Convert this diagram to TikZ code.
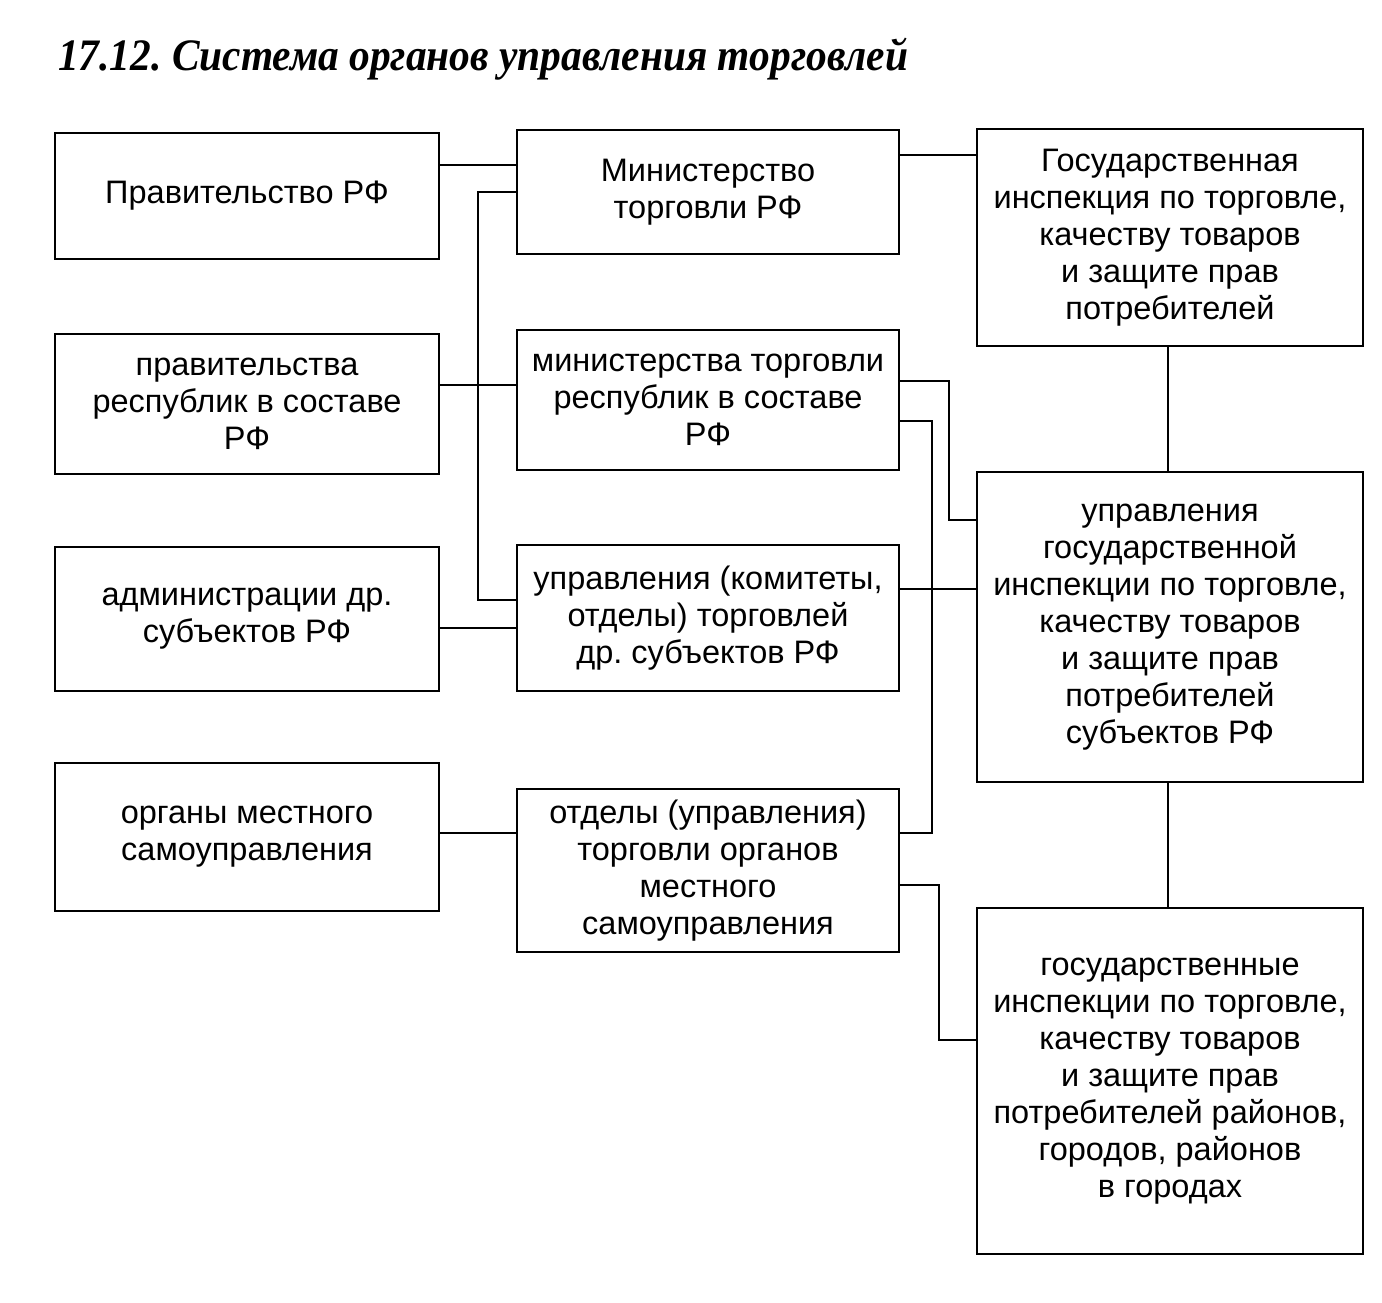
\documentclass[tikz,border=0pt]{standalone}
\usepackage{graphicx}
\usepackage{fontspec}
\setmainfont{Liberation Sans}
\newfontfamily\titlefont{Liberation Serif}
\begin{document}
\begin{tikzpicture}[x=1pt,y=-1pt,
  box/.style={draw=black,line width=2.8pt,inner sep=0pt,align=center,
    font=\fontsize{32.5}{37}\selectfont},
  conn/.style={draw=black,line width=2.4pt}]
\useasboundingbox[fill=white] (0,0) rectangle (1382,1303);
% title
\node[anchor=base west,inner sep=0pt,font=\titlefont\bfseries\itshape\fontsize{45}{50}\selectfont] (title) at (58,71) {\scalebox{0.92}[1]{17.12.\ Система органов управления торговлей}};
% left column
\node[box,minimum width=384pt,minimum height=126pt] (L1) at (247,196) {Правительство РФ};
\node[box,minimum width=384pt,minimum height=140pt] (L2) at (247,404) {правительства\\республик в составе\\РФ};
\node[box,minimum width=384pt,minimum height=144pt] (L3) at (247,619) {администрации др.\\субъектов РФ};
\node[box,minimum width=384pt,minimum height=148pt] (L4) at (247,837) {органы местного\\самоуправления};
% middle column
\node[box,minimum width=382pt,minimum height=124pt] (M1) at (708,192) {Министерство\\торговли РФ};
\node[box,minimum width=382pt,minimum height=140pt] (M2) at (708,400) {министерства торговли\\республик в составе\\РФ};
\node[box,minimum width=382pt,minimum height=146pt] (M3) at (708,618) {управления (комитеты,\\отделы) торговлей\\др.\ субъектов РФ};
\node[box,minimum width=382pt,minimum height=163pt] (M4) at (708,870.5) {отделы (управления)\\торговли органов\\местного\\самоуправления};
% right column
\node[box,minimum width=386pt,minimum height=217pt] (R1) at (1170,237.5) {Государственная\\инспекция по торговле,\\качеству товаров\\и защите прав\\потребителей};
\node[box,minimum width=386pt,minimum height=310pt] (R2) at (1170,627) {управления\\государственной\\инспекции по торговле,\\качеству товаров\\и защите прав\\потребителей\\субъектов РФ};
\node[box,minimum width=386pt,minimum height=346pt] (R3) at (1170,1081) {государственные\\инспекции по торговле,\\качеству товаров\\и защите прав\\потребителей районов,\\городов, районов\\в городах};
% connectors
\draw[conn] (L1.east |- 0,165) -- (M1.west |- 0,165);
\draw[conn] (M1.west |- 0,192) -| (478,600) -- (M3.west |- 0,600);
\draw[conn] (L2.east |- 0,385) -- (M2.west |- 0,385);
\draw[conn] (L3.east |- 0,628) -- (M3.west |- 0,628);
\draw[conn] (L4.east |- 0,833) -- (M4.west |- 0,833);
\draw[conn] (M1.east |- 0,155) -- (R1.west |- 0,155);
\draw[conn] (R1.south -| 1168,0) -- (R2.north -| 1168,0);
\draw[conn] (R2.south -| 1168,0) -- (R3.north -| 1168,0);
\draw[conn] (M2.east |- 0,381) -| (949,520) -- (R2.west |- 0,520);
\draw[conn] (M2.east |- 0,421) -| (932,833) -- (M4.east |- 0,833);
\draw[conn] (M3.east |- 0,589) -- (R2.west |- 0,589);
\draw[conn] (M4.east |- 0,885) -| (939,1040) -- (R3.west |- 0,1040);
\end{tikzpicture}
\end{document}
